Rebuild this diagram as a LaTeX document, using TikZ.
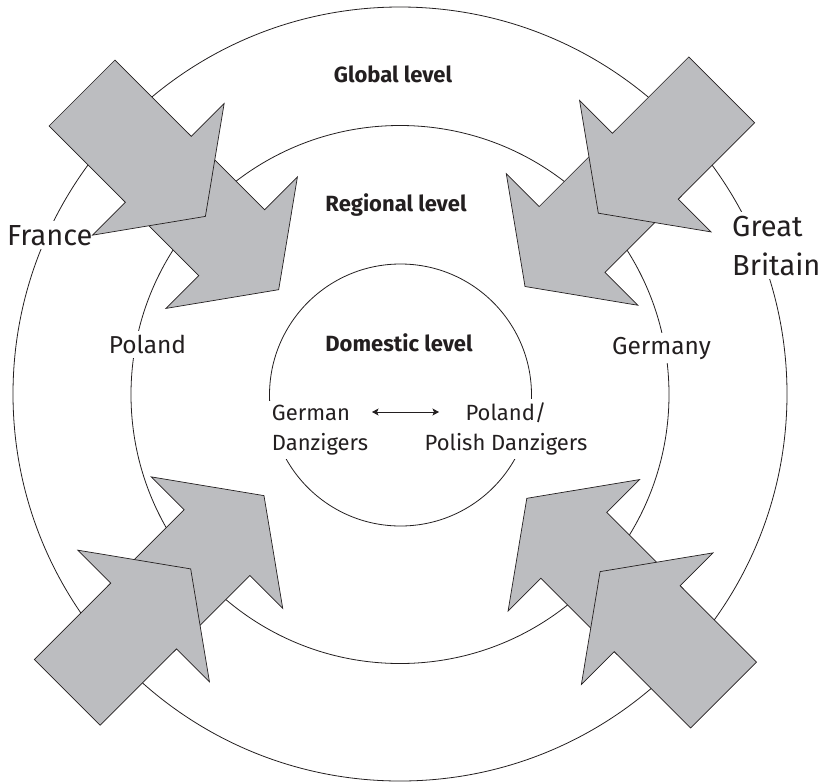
\documentclass[tikz,border=0pt]{standalone}
\usepackage{fontspec}
\setmainfont{Fira Sans}
\usetikzlibrary{arrows.meta}
\definecolor{arrowgray}{RGB}{188,189,192}
\definecolor{ink}{RGB}{35,31,32}
\begin{document}
\begin{tikzpicture}[x=1pt,y=-1pt,
  ring/.style={draw=ink, line width=0.8pt},
  lbl/.style={fill=white, inner sep=4pt, text=ink, font=\fontsize{22}{29.5}\selectfont},
  midl/.style={fill=white, inner sep=4pt, text=ink, font=\fontsize{24.5}{29.5}\selectfont},
  bigl/.style={fill=white, inner sep=4pt, text=ink, font=\fontsize{29}{38.3}\selectfont},
  lvl/.style={inner sep=2pt, text=ink, font=\fontsize{22}{26}\selectfont\bfseries},
  barrow/.pic={\draw[fill=arrowgray, draw=ink, line width=0.7pt, line join=miter]
     (0,46.5) -- (0,-46.5) -- (108,-46.5) -- (108,-93) -- (174.5,0) -- (108,93) -- (108,46.5) -- cycle;},
  dblarrow/.style={{Stealth[length=6.5pt,width=7pt,inset=1.5pt]}-{Stealth[length=6.5pt,width=7pt,inset=1.5pt]}, draw=ink, line width=0.8pt}
]
\useasboundingbox (0,0) rectangle (824,782);
% rings
\draw[ring] (400,394) circle[radius=387pt];
\draw[ring] (400,394.5) circle[radius=269pt];
\draw[ring] (400.5,395) circle[radius=131pt];
% level titles
\node[lvl, anchor=base] (global) at (393,82) {Global level};
\node[lvl, anchor=base] (regional) at (396,211) {Regional level};
\node[lvl, anchor=base] (domestic) at (399,351) {Domestic level};
% labels
\node[midl, anchor=base] (polandL) at (147.5,353.5) {Poland};
\node[midl, anchor=base] (germany) at (661.5,354) {Germany};
\node[bigl, anchor=base west] (france) at (3,245) {France};
\node[bigl, align=left, anchor=base west] (gb) at (728,275) {Great\\Britain};
\node[lbl, align=left, anchor=base west] (german) at (267.7,450) {German\\Danzigers};
\node[lbl, align=center, anchor=base] (polish) at (506,450) {Poland/\\Polish Danzigers};
\coordinate (aL) at (372,412);
\coordinate (aR) at (439,412);
\draw[dblarrow] (aL) -- (aR);
% arrows (inner first, outer on top)
\pic[rotate=-45] at (155.3,166.3) {barrow};
\pic[rotate=-45] at (82,93) {barrow};
\pic[rotate=-135] at (648.4,163.1) {barrow};
\pic[rotate=-135] at (721.7,89.8) {barrow};
\pic[rotate=45] at (140.6,619) {barrow};
\pic[rotate=45] at (67.3,692.3) {barrow};
\pic[rotate=135] at (650.2,621.7) {barrow};
\pic[rotate=135] at (723.5,695) {barrow};
\end{tikzpicture}
\end{document}
